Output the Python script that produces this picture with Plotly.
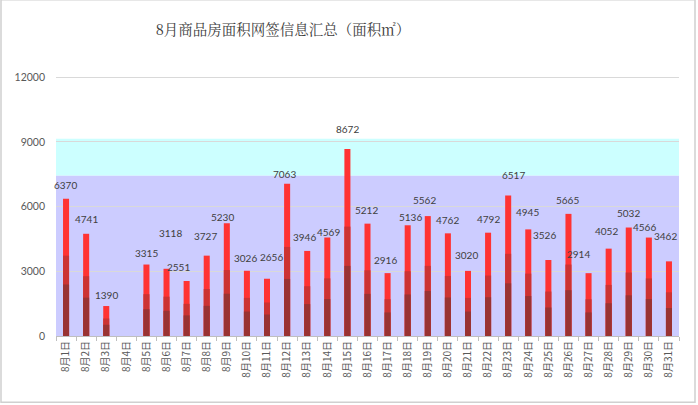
import plotly.graph_objects as go

days = ["8月1日", "8月2日", "8月3日", "8月4日", "8月5日", "8月6日", "8月7日", "8月8日",
        "8月9日", "8月10日", "8月11日", "8月12日", "8月13日", "8月14日", "8月15日", "8月16日",
        "8月17日", "8月18日", "8月19日", "8月20日", "8月21日", "8月22日", "8月23日", "8月24日",
        "8月25日", "8月26日", "8月27日", "8月28日", "8月29日", "8月30日", "8月31日"]
area = [6370, 4741, 1390, 0, 3315, 3118, 2551, 3727, 5230, 3026, 2656, 7063, 3946, 4569, 8672, 5212,
        2916, 5136, 5562, 4762, 3020, 4792, 6517, 4945, 3526, 5665, 2914, 4052, 5032, 4566, 3462]
y_ticks = [0, 3000, 6000, 9000, 12000]
y_tick_text = ["0", "3000", "6000", "9000", "12000"]
band_low = [0, 7450]
band_high = [7450, 9150]

# style: data-label offsets (px) as placed in the original chart
label_dx = [-1, 0, 0, 0, 0, 4, -8, -1, -4, -1, 4, -3, -3, 1, 0, -1,
            -2, 3, -3, 0, -1, 0, 5, -1, -4, -1, -10, -2, 0, -4, -3]
label_dy = [14, 15, 11, 0, 12, 36, 14, 20, 6, 13, 22, 10, 14, 6, 20, 14,
            13, 8, 16, 13, 16, 14, 21, 17, 25, 14, 19, 18, 15, 11, 25]

# style: gradient shading of each bar, fraction of bar height per tone
shade_fracs = [1.0, 0.585, 0.375]
shade_colors = ["#FF3333", "#CC3333", "#993333"]

fig = go.Figure()
for f, c in zip(shade_fracs, shade_colors):
    fig.add_trace(go.Bar(
        x=days, y=[v * f for v in area],
        marker=dict(color=c, line=dict(width=0)),
        width=0.3,
        hoverinfo="x+y" if f == 1.0 else "skip",
        showlegend=False,
    ))

for d, v, dx, dy in zip(days, area, label_dx, label_dy):
    if v <= 0:
        continue
    fig.add_annotation(x=d, y=v, text=str(v), showarrow=False,
                       xanchor="center", yanchor="middle", xshift=dx, yshift=dy,
                       font=dict(family="Lato, Open Sans, sans-serif", size=10, color="#404040"))

band_colors = ["#CCCCFF", "#CCFFFF"]
for lo, hi, col in zip(band_low, band_high, band_colors):
    fig.add_shape(type="rect", xref="paper", yref="y", x0=0, x1=1, y0=lo, y1=hi,
                  fillcolor=col, line=dict(width=0), layer="below")

# outer chart border
fig.add_shape(type="rect", xref="paper", yref="paper", x0=-55/623, x1=639/623,
              y0=-66/259, y1=335/259, line=dict(color="#D0D0D0", width=1.5),
              fillcolor="rgba(0,0,0,0)", layer="above")

fig.update_layout(
    width=698, height=405,
    margin=dict(l=56, r=19, t=76, b=69, autoexpand=False),
    paper_bgcolor="white", plot_bgcolor="white",
    barmode="overlay",
    title=dict(text="8月商品房面积网签信息汇总（面积㎡）",
               font=dict(family="Noto Serif CJK SC, Noto Sans CJK SC", size=14.5, color="#404040"),
               x=283/698, xanchor="center", y=1 - 30/405, yanchor="middle"),
    xaxis=dict(
        type="category", tickangle=-90, automargin=False,
        tickfont=dict(family="Noto Sans CJK SC", size=10, color="#595959"),
        showgrid=False, showline=True, linecolor="#BFBFBF", linewidth=1,
        ticks="outside", tickson="boundaries", ticklen=4, tickcolor="#BFBFBF",
        range=[-0.5, 30.5],
    ),
    yaxis=dict(
        range=[0, 12060], tickvals=y_ticks, ticktext=y_tick_text, automargin=False,
        tickfont=dict(family="Lato, Open Sans, sans-serif", size=10.5, color="#595959"),
        showgrid=True, gridcolor="#D9D9D9", gridwidth=1, ticklabelstandoff=10,
        zeroline=False, showline=False, ticks="", ticklen=0,
    ),
)

fig.write_html("out.html", config={"displayModeBar": False},
               post_script="document.body.style.margin='0';")
